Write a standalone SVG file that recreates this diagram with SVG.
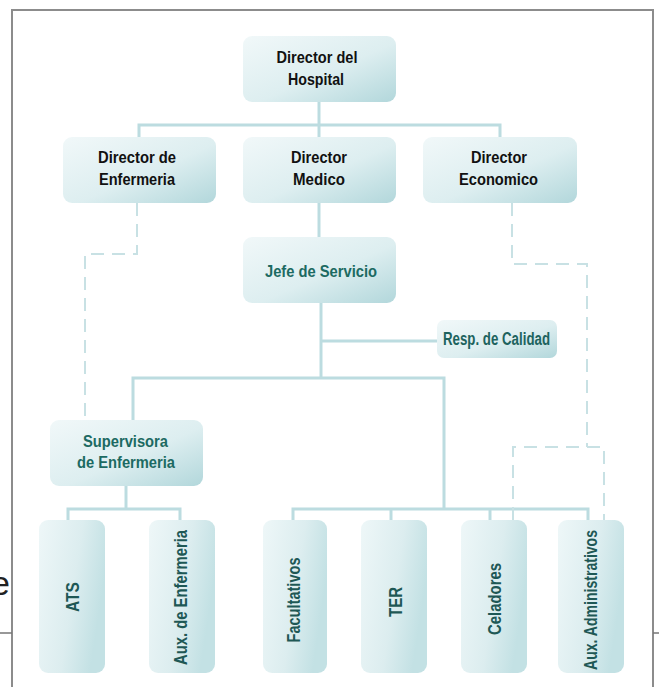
<svg xmlns="http://www.w3.org/2000/svg" width="659" height="687" viewBox="0 0 659 687">
  <defs>
    <linearGradient id="boxGrad" x1="0" y1="0" x2="1" y2="1">
      <stop offset="0" stop-color="#f1f8f9"/>
      <stop offset="0.55" stop-color="#ddeef0"/>
      <stop offset="1" stop-color="#b2d7db"/>
    </linearGradient>
    <linearGradient id="tallGrad" x1="0" y1="0" x2="1" y2="0.35">
      <stop offset="0" stop-color="#eef7f8"/>
      <stop offset="0.6" stop-color="#dcedef"/>
      <stop offset="1" stop-color="#c3e1e4"/>
    </linearGradient>
    <style>
      .box { fill: url(#boxGrad); }
      .tall { fill: url(#tallGrad); }
      .t { font-family: "Liberation Sans Narrow", "Liberation Sans", Arial, sans-serif; font-weight: bold; text-anchor: middle; }
      .dir { fill: #111111; font-size: 16.5px; }
      .mid { fill: #1c6a62; font-size: 16.5px; }
      .res { fill: #1d635e; font-size: 18px; }
      .bot { fill: #1e5855; font-size: 18px; }
      .con { fill: none; stroke: #bcdce0; stroke-width: 3; }
      .dash { fill: none; stroke: #c8e1e4; stroke-width: 2; stroke-dasharray: 13 8; }
      .frame { fill: none; stroke: #8c8c8c; stroke-width: 2; }
    </style>
  </defs>
  <rect width="659" height="687" fill="#ffffff"/>

  <!-- frame -->
  <g id="frame">
    <path class="frame" d="M12,687 V10 H653 V687"/>
    <path d="M0,633 H12 M653,633 H659" stroke="#777777" stroke-width="1.5" fill="none"/>
    <text x="-9" y="595" font-family="Liberation Sans, Arial, sans-serif" font-size="34" fill="#222222">e</text>
  </g>

  <!-- connectors -->
  <g id="connectors">
    <path class="con" d="M319,102 V137"/>
    <path class="con" d="M139,137 V125 H500 V137"/>
    <path class="con" d="M319,203 V237"/>
    <path class="con" d="M321,303 V378"/>
    <path class="con" d="M321,341 H437"/>
    <path class="con" d="M133,420 V378 H444 V509"/>
    <path class="con" d="M126,486 V509"/>
    <path class="con" d="M68,520 V509 H180 V520"/>
    <path class="con" d="M293,520 V509 H588 V520"/>
    <path class="con" d="M391,509 V520"/>
    <path class="con" d="M490,509 V520"/>
    <path class="dash" d="M137,203 V254 H85 V420"/>
    <path class="dash" d="M512,203 V264 H587 V447"/>
    <path class="dash" d="M513,520 V447 H604 V520"/>
  </g>

  <!-- nodes -->
  <g id="director-hospital">
    <rect class="box" x="243" y="36" width="153" height="66" rx="9"/>
    <text class="t dir" x="317" y="63" textLength="81" lengthAdjust="spacingAndGlyphs">Director del</text>
    <text class="t dir" x="316" y="85" textLength="56" lengthAdjust="spacingAndGlyphs">Hospital</text>
  </g>
  <g id="director-enfermeria">
    <rect class="box" x="63" y="137" width="153" height="66" rx="9"/>
    <text class="t dir" x="137" y="163" textLength="78" lengthAdjust="spacingAndGlyphs">Director de</text>
    <text class="t dir" x="137" y="185" textLength="76" lengthAdjust="spacingAndGlyphs">Enfermeria</text>
  </g>
  <g id="director-medico">
    <rect class="box" x="243" y="137" width="153" height="66" rx="9"/>
    <text class="t dir" x="319" y="163" textLength="56" lengthAdjust="spacingAndGlyphs">Director</text>
    <text class="t dir" x="319" y="185" textLength="52" lengthAdjust="spacingAndGlyphs">Medico</text>
  </g>
  <g id="director-economico">
    <rect class="box" x="423" y="137" width="154" height="66" rx="9"/>
    <text class="t dir" x="499" y="163" textLength="56" lengthAdjust="spacingAndGlyphs">Director</text>
    <text class="t dir" x="498.5" y="185" textLength="79" lengthAdjust="spacingAndGlyphs">Economico</text>
  </g>
  <g id="jefe-servicio">
    <rect class="box" x="243" y="237" width="153" height="66" rx="9"/>
    <text class="t mid" x="321" y="277" textLength="112" lengthAdjust="spacingAndGlyphs">Jefe de Servicio</text>
  </g>
  <g id="resp-calidad">
    <rect class="box" x="437" y="320" width="120" height="38" rx="7"/>
    <text class="t res" x="496.5" y="345" textLength="107" lengthAdjust="spacingAndGlyphs">Resp. de Calidad</text>
  </g>
  <g id="supervisora">
    <rect class="box" x="50" y="420" width="153" height="66" rx="9"/>
    <text class="t mid" x="125.5" y="447" textLength="85" lengthAdjust="spacingAndGlyphs">Supervisora</text>
    <text class="t mid" x="126" y="468" textLength="98" lengthAdjust="spacingAndGlyphs">de Enfermeria</text>
  </g>
  <g id="ats">
    <rect class="tall" x="39" y="520" width="66" height="153" rx="9"/>
    <text class="t bot" transform="translate(72.5,597) rotate(-90)" x="0" y="6.5" textLength="30" lengthAdjust="spacingAndGlyphs">ATS</text>
  </g>
  <g id="aux-enfermeria">
    <rect class="tall" x="149" y="520" width="66" height="153" rx="9"/>
    <text class="t bot" transform="translate(180.5,597.5) rotate(-90)" x="0" y="6.5" textLength="135" lengthAdjust="spacingAndGlyphs">Aux. de Enfermeria</text>
  </g>
  <g id="facultativos">
    <rect class="tall" x="263" y="520" width="64" height="153" rx="9"/>
    <text class="t bot" transform="translate(293,600) rotate(-90)" x="0" y="6.5" textLength="85" lengthAdjust="spacingAndGlyphs">Facultativos</text>
  </g>
  <g id="ter">
    <rect class="tall" x="361" y="520" width="66" height="153" rx="9"/>
    <text class="t bot" transform="translate(395,602) rotate(-90)" x="0" y="6.5" textLength="30" lengthAdjust="spacingAndGlyphs">TER</text>
  </g>
  <g id="celadores">
    <rect class="tall" x="461" y="520" width="66" height="153" rx="9"/>
    <text class="t bot" transform="translate(494.5,599) rotate(-90)" x="0" y="6.5" textLength="72" lengthAdjust="spacingAndGlyphs">Celadores</text>
  </g>
  <g id="aux-administrativos">
    <rect class="tall" x="558" y="520" width="66" height="153" rx="9"/>
    <text class="t bot" transform="translate(590.5,600) rotate(-90)" x="0" y="6.5" textLength="140" lengthAdjust="spacingAndGlyphs">Aux. Administrativos</text>
  </g>
</svg>
